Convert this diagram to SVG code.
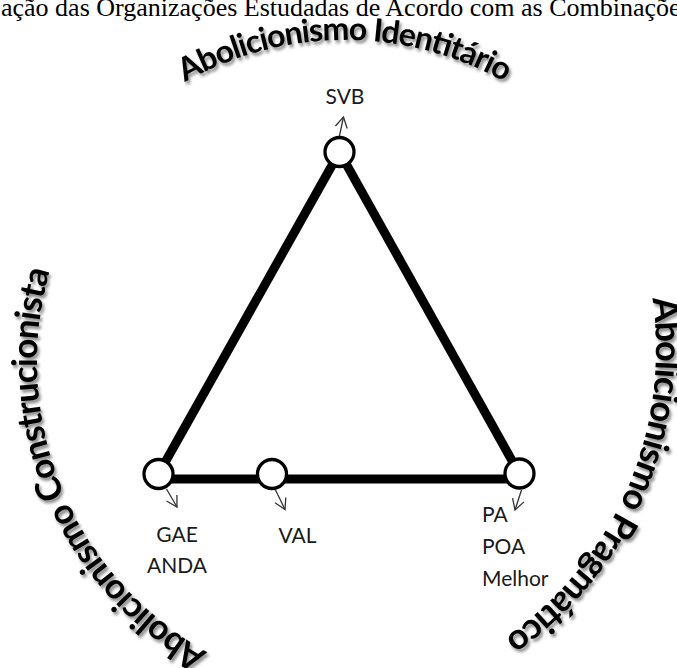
<svg xmlns="http://www.w3.org/2000/svg" width="677" height="668" viewBox="0 0 677 668">
<style>
.title{font-family:"Liberation Serif","Times New Roman",serif;font-size:26px;fill:#000}
.arch{font-family:Lato,"Noto Sans",sans-serif;font-weight:700;fill:#000;filter:url(#sh)}
.lbl{font-family:Lato,"Noto Sans",sans-serif;font-size:21px;fill:#1a1a1a}
.edge{stroke:#000;stroke-width:9;fill:none}
.node{fill:#fff;stroke:#000;stroke-width:3.3}
.ptr{stroke:#333;stroke-width:1.3;fill:none;marker-end:url(#ah)}
</style>
<defs>
<filter id="sh" x="-10%" y="-10%" width="130%" height="130%"><feDropShadow dx="2" dy="3" stdDeviation="1.6" flood-color="#000" flood-opacity="0.45"/></filter>
<marker id="ah" markerUnits="userSpaceOnUse" markerWidth="14" markerHeight="14" refX="12" refY="7" orient="auto"><path d="M1.5,1 L12,7 L1.5,13" fill="none" stroke="#333" stroke-width="1.3"/></marker>
<path id="arcTop" d="M136.1,116 A325,325 0 0 1 553.9,116"/>
<path id="arcLeft" d="M255.4,674 A332,332 0 0 1 68.1,221.7"/>
<path id="arcRight" d="M644.1,259.7 A349,349 0 0 1 454.5,666.3"/>
</defs>
<text class="title" x="1" y="16">ação das Organizações Estudadas de Acordo com as Combinações</text>
<g id="arch-labels">
<text class="arch" font-size="32"><textPath href="#arcTop" startOffset="59.6" textLength="334">Abolicionismo Identitário</textPath></text>
<text class="arch" font-size="35"><textPath href="#arcLeft" startOffset="53" textLength="445">Abolicionismo Construcionista</textPath></text>
<text class="arch" font-size="36"><textPath href="#arcRight" startOffset="39.6" textLength="390">Abolicionismo Pragmático</textPath></text>
</g>
<g id="connectors">
<line class="edge" x1="339.5" y1="152" x2="158.5" y2="474"/>
<line class="edge" x1="339.5" y1="152" x2="519.5" y2="474"/>
<line class="edge" x1="158.5" y1="479" x2="519.5" y2="479"/>
<line class="ptr" x1="339" y1="138" x2="343.5" y2="117"/>
<line class="ptr" x1="166.5" y1="489" x2="177" y2="507"/>
<line class="ptr" x1="275" y1="489" x2="285" y2="509.5"/>
<line class="ptr" x1="521.5" y1="490" x2="515" y2="510"/>
</g>
<g id="node-svb">
<circle class="node" cx="339.5" cy="152" r="14.5"/>
<text class="lbl" x="345" y="104" text-anchor="middle">SVB</text>
</g>
<g id="node-gae">
<circle class="node" cx="158.5" cy="474" r="14.5"/>
<text class="lbl" text-anchor="middle"><tspan x="177" y="541.5">GAE</tspan><tspan x="177" y="573">ANDA</tspan></text>
</g>
<g id="node-val">
<circle class="node" cx="272" cy="474" r="14.5"/>
<text class="lbl" x="297.5" y="543" text-anchor="middle">VAL</text>
</g>
<g id="node-pa">
<circle class="node" cx="519.5" cy="473.5" r="14.5"/>
<text class="lbl"><tspan x="482" y="521.5">PA</tspan><tspan x="482" y="554">POA</tspan><tspan x="482" y="586">Melhor</tspan></text>
</g>
</svg>
